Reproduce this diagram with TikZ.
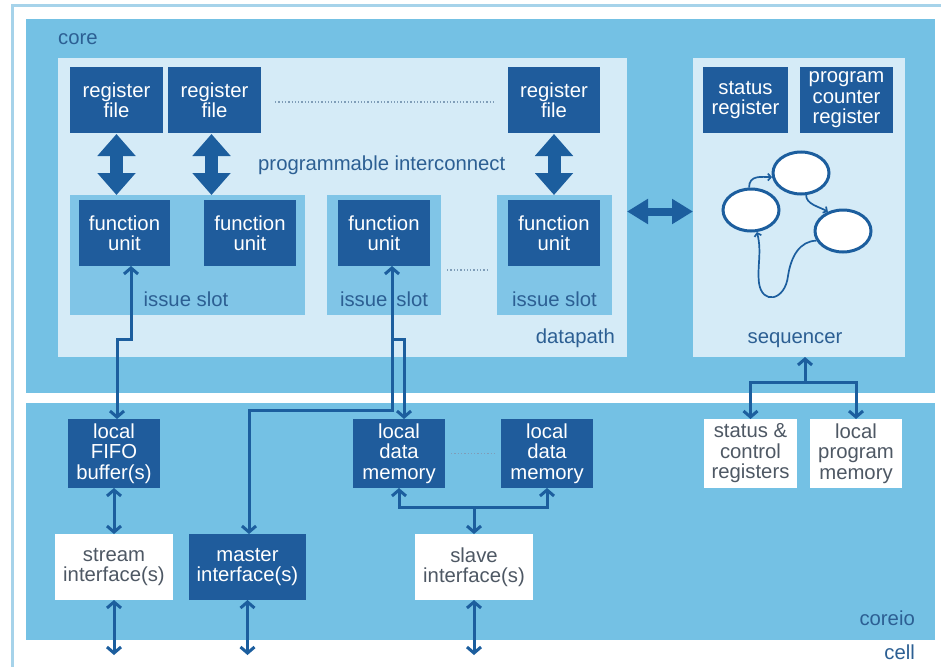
\documentclass[tikz,border=0pt]{standalone}
\usepackage{fontspec}
\setmainfont{Liberation Sans}
\usetikzlibrary{arrows.meta,shapes.geometric}

\definecolor{cellline}{HTML}{A6D3EA}
\definecolor{corefill}{HTML}{74C1E4}
\definecolor{panelfill}{HTML}{D5EBF7}
\definecolor{slotfill}{HTML}{80C5E7}
\definecolor{darkbox}{HTML}{1F5C9C}
\definecolor{lineblue}{HTML}{1C5E9E}
\definecolor{labelblue}{HTML}{2C5F93}
\definecolor{boxgray}{HTML}{4E5864}
\definecolor{dotgray}{HTML}{7F9DB8}

\newcommand\dgmfont{\fontsize{20.3}{20.5}\selectfont}

\tikzset{
  region/.style={draw=none, inner sep=0pt, outer sep=0pt, anchor=center},
  darkbox/.style={fill=darkbox, text=white, font=\dgmfont, align=center,
    inner sep=0pt, outer sep=0pt, anchor=center},
  whitebox/.style={fill=white, text=boxgray, font=\dgmfont, align=center,
    inner sep=0pt, outer sep=0pt, anchor=center},
  lbl/.style={text=labelblue, font=\dgmfont, inner sep=0pt},
  conn/.style={draw=lineblue, line width=3pt},
  bigarrow/.style={draw=lineblue, line width=13pt,
    {Triangle[width=37pt,length=22pt]}-{Triangle[width=37pt,length=22pt]}},
  midarrow/.style={draw=lineblue, line width=8pt,
    {Triangle[width=24pt,length=21pt]}-{Triangle[width=24pt,length=21pt]}},
  dots/.style={draw=dotgray, line width=1.3pt, dash pattern=on 1.3pt off 2pt},
  state/.style={ellipse, draw=lineblue, line width=3pt, fill=white,
    minimum width=56pt, minimum height=42pt, inner sep=0pt},
  fsmedge/.style={draw=lineblue, line width=1.7pt,
    -{Straight Barb[length=3pt,width=7pt]}},
}

\begin{document}
\begin{tikzpicture}[x=1pt, y=-1pt, >={Straight Barb[length=6pt,width=14pt]}]
\useasboundingbox (0,0) rectangle (941,666);
\fill[white] (0,0) rectangle (941,666);

% cell frame
\draw[cellline, line width=3pt] (12,700) -- (12,6) -- (945,6);

% core and coreio areas
\node[region, fill=corefill, minimum width=909pt, minimum height=374pt] (core) at (480.5,206) {};
\node[region, fill=corefill, minimum width=909pt, minimum height=237pt] (coreio) at (480.5,521.5) {};

% datapath and sequencer panels
\node[region, fill=panelfill, minimum width=569pt, minimum height=299pt] (dp) at (342.5,207.5) {};
\node[region, fill=panelfill, minimum width=212pt, minimum height=299pt] (seq) at (799,207.5) {};

% issue slots
\node[region, fill=slotfill, minimum width=235pt, minimum height=120pt] (slot1) at (187.5,255) {};
\node[region, fill=slotfill, minimum width=114pt, minimum height=120pt] (slot2) at (384,255) {};
\node[region, fill=slotfill, minimum width=115pt, minimum height=120pt] (slot3) at (554.5,255) {};

% area labels
\node[lbl, anchor=base west] (lcore) at (58,45) {core};
\node[lbl, anchor=base east] (ldp) at (615,343) {datapath};
\node[lbl, anchor=base] (lseq) at (795,343) {sequencer};
\node[lbl, anchor=base east] (lcoreio) at (915,625) {coreio};
\node[lbl, anchor=base east] (lcell) at (915,659) {cell};
\node[lbl, anchor=base west] (lpi) at (258,170) {programmable interconnect};
\node[lbl, anchor=base] (ls1) at (186,306) {issue slot};
\node[lbl, anchor=base] (ls2) at (384,306) {issue\hspace{9pt}slot};
\node[lbl, anchor=base] (ls3) at (554.5,306) {issue slot};

% register files
\node[darkbox, minimum width=93pt, minimum height=66pt] (rf1) at (116.5,100) {register\\file};
\node[darkbox, minimum width=93pt, minimum height=66pt] (rf2) at (214.5,100) {register\\file};
\node[darkbox, minimum width=92pt, minimum height=66pt] (rf3) at (554,100) {register\\file};
\draw[dots] ([xshift=14pt,yshift=-2pt]rf2.east) -- ([xshift=-13pt,yshift=-2pt]rf3.west);

% sequencer registers
\node[darkbox, minimum width=85pt, minimum height=66pt] (sr) at (745.5,100) {status\\register};
\node[darkbox, minimum width=93pt, minimum height=66pt] (pcr) at (846.5,100) {program\\counter\\register};

% function units
\node[darkbox, minimum width=91pt, minimum height=66pt] (fu1) at (124.5,233) {function\\unit};
\node[darkbox, minimum width=92pt, minimum height=66pt] (fu2) at (250,233) {function\\unit};
\node[darkbox, minimum width=92pt, minimum height=66pt] (fu3) at (384,233) {function\\unit};
\node[darkbox, minimum width=92pt, minimum height=66pt] (fu4) at (554,233) {function\\unit};
\draw[dots] ([xshift=6pt,yshift=-15pt]slot2.east) -- ([xshift=-9pt,yshift=-15pt]slot3.west);

% register file <-> issue slot
\draw[bigarrow] ([yshift=-1pt]rf1.south) -- (rf1.south |- slot1.north);
\draw[bigarrow] ([xshift=-3pt,yshift=-1pt]rf2.south) -- ([xshift=-3pt]rf2.south |- slot1.north);
\draw[bigarrow] ([yshift=-1pt]rf3.south) -- (rf3.south |- slot3.north);

% datapath <-> sequencer
\draw[midarrow] ([yshift=-4pt]dp.east) -- ([yshift=-4pt]dp.east -| seq.west);

% state machine
\node[state] (st1) at (751,210) {};
\node[state] (st2) at (801,173) {};
\node[state] (st3) at (843,231) {};
\draw[fsmedge] (st1.95) .. controls +(0,-13) and +(-10,0) .. (st2.188);
\draw[fsmedge] (st2.283) .. controls +(0,9) and +(-9,-5) .. (st3.128);
\draw[fsmedge] (st3.200) .. controls (800,241) and (791,256) .. (788,276)
  .. controls (785,301) and (762,305) .. (759,283)
  .. controls (757,266) and (762,252) .. (st1.285);

% coreio blocks
\node[darkbox, minimum width=92pt, minimum height=69pt] (fifo) at (114,453.5) {local\\FIFO\\buffer(s)};
\node[darkbox, minimum width=92pt, minimum height=69pt] (ldm1) at (399,453.5) {local\\data\\memory};
\node[darkbox, minimum width=92pt, minimum height=69pt] (ldm2) at (547,453.5) {local\\data\\memory};
\draw[dots] ([xshift=6pt]ldm1.east) -- ([xshift=-6pt]ldm2.west);
\node[whitebox, minimum width=93pt, minimum height=69pt] (scr) at (750.5,453.5) {status \&\\control\\registers};
\node[whitebox, minimum width=92pt, minimum height=69pt] (lpm) at (856,453.5) {local\\program\\memory};
\node[whitebox, minimum width=118pt, minimum height=66pt] (stream) at (114,567) {stream\\interface(s)};
\node[darkbox, minimum width=117pt, minimum height=66pt] (master) at (247.5,567) {master\\interface(s)};
\node[whitebox, minimum width=118pt, minimum height=66pt] (slave) at (474,567) {slave\\interface(s)};

% junction points of the wiring
\coordinate (jf) at (131,339);
\coordinate (jm) at (392,410);
\coordinate (jd) at (392,339);
\coordinate (jl) at (474,507);
\coordinate (js) at (805,382);
\coordinate (ostream) at (114,655);
\coordinate (omaster) at (247.5,655);
\coordinate (oslave) at (474,655);

% function unit 1 <-> FIFO
\draw[conn, <->] ([xshift=6.5pt]fu1.south) -- (jf) -| ([xshift=3pt]fifo.north);

% function unit 3 <-> master interface and local data memory
\draw[conn, <->] ([xshift=8pt]fu3.south) -- (jm) -| ([xshift=1.5pt]master.north);
\draw[conn, ->] (jd) -| ([xshift=5pt]ldm1.north);

% local data memories <-> slave interface
\draw[conn, <->] (ldm1.south) |- (jl) -| (ldm2.south);
\draw[conn, ->] (jl) -- (slave.north);

% FIFO <-> stream interface
\draw[conn, <->] (fifo.south) -- (stream.north);

% interfaces to the cell
\draw[conn, <->] (stream.south) -- (ostream);
\draw[conn, <->] (master.south) -- (omaster);
\draw[conn, <->] (slave.south) -- (oslave);

% sequencer <-> status/control and program memory
\draw[conn, ->] (js) -- (js |- seq.south);
\draw[conn, ->] (js) -| (scr.north);
\draw[conn, ->] (js) -| (lpm.north);
\end{tikzpicture}
\end{document}
